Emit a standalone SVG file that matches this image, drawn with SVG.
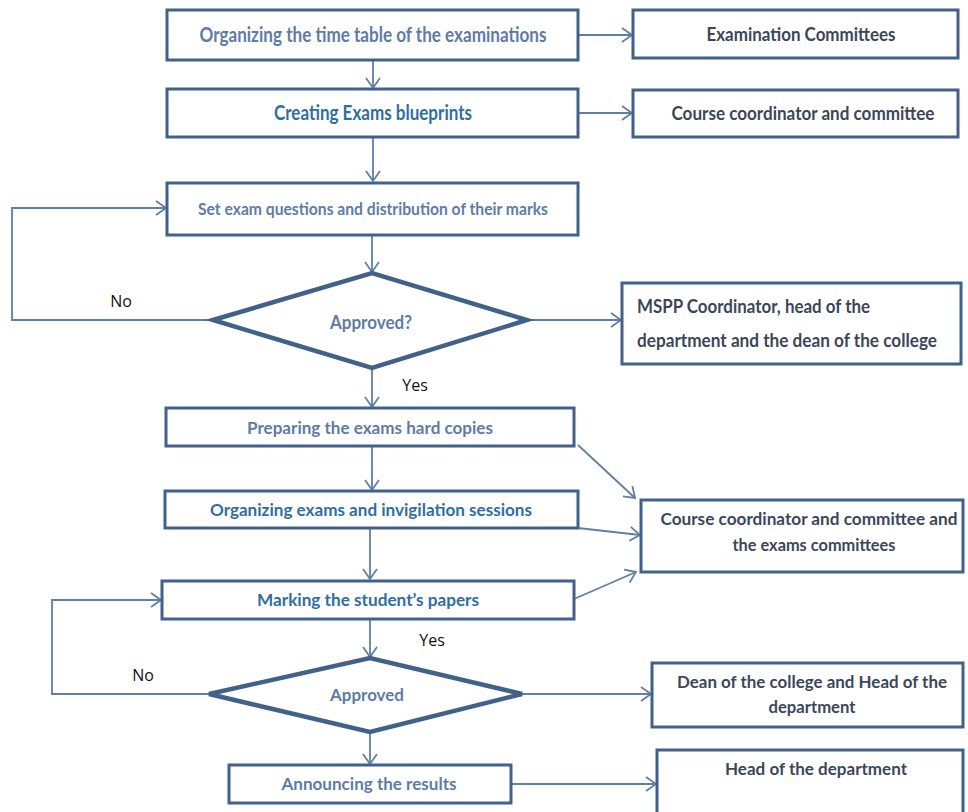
<svg xmlns="http://www.w3.org/2000/svg" width="968" height="812" viewBox="0 0 968 812">
<style>
.box{fill:#fff;stroke:#41618a;stroke-width:3}
.dia{fill:#fff;stroke:#41618a;stroke-width:4.5;stroke-linejoin:miter}
.con{fill:none;stroke:#5f7fa6;stroke-width:1.8;marker-end:url(#ah)}
.t{font-family:Lato,"Liberation Sans",sans-serif;font-weight:bold;text-anchor:middle}
.grey{fill:#5d7ca6}
.blue{fill:#2f6ea3}
.dark{fill:#3b4759}
.lbl{font-family:"Open Sans","Liberation Sans",sans-serif;font-size:16px;fill:#111;text-anchor:middle}
</style>
<defs>
<marker id="ah" markerUnits="userSpaceOnUse" markerWidth="14" markerHeight="16" refX="11" refY="8" orient="auto">
<path d="M1,1 L11,8 L1,15" fill="none" stroke="#5f7fa6" stroke-width="1.8"/>
</marker>
</defs>
<rect width="968" height="812" fill="#fff"/>
<g id="connectors">
<path class="con" d="M373,60 V88"/>
<path class="con" d="M578,35 H632"/>
<path class="con" d="M578,113 H632"/>
<path class="con" d="M373,138 V181"/>
<path class="con" d="M372,235 V272"/>
<path class="con" d="M213,320 H12 V208 H166"/>
<path class="con" d="M527,320 H621"/>
<path class="con" d="M372,368 V407"/>
<path class="con" d="M372,446 V490"/>
<path class="con" d="M370,528 V579"/>
<path class="con" d="M578,445 L635,498"/>
<path class="con" d="M578,528 L640,535"/>
<path class="con" d="M574,599 L636,572"/>
<path class="con" d="M370,620 V657"/>
<path class="con" d="M209,694 H52 V600 H161"/>
<path class="con" d="M522,694 H651"/>
<path class="con" d="M370,732 V764"/>
<path class="con" d="M511,784 H656"/>
<text class="lbl" x="121" y="307">No</text>
<text class="lbl" x="415" y="391">Yes</text>
<text class="lbl" x="432" y="646">Yes</text>
<text class="lbl" x="143" y="681">No</text>
</g>
<g id="n1"><rect class="box" x="167" y="10" width="411" height="50"/>
<text class="t grey" x="373" y="42" font-size="20" textLength="347" lengthAdjust="spacingAndGlyphs">Organizing the time table of the examinations</text></g>
<g id="n2"><rect class="box" x="167" y="89" width="411" height="48"/>
<text class="t blue" x="373" y="120" font-size="20" textLength="198" lengthAdjust="spacingAndGlyphs">Creating Exams blueprints</text></g>
<g id="n3"><rect class="box" x="633" y="10" width="325" height="48"/>
<text class="t dark" x="801" y="41" font-size="19" textLength="189" lengthAdjust="spacingAndGlyphs">Examination Committees</text></g>
<g id="n4"><rect class="box" x="633" y="90" width="325" height="47"/>
<text class="t dark" x="803" y="120" font-size="19" textLength="263" lengthAdjust="spacingAndGlyphs">Course coordinator and committee</text></g>
<g id="n5"><rect class="box" x="167" y="183" width="411" height="52"/>
<text class="t grey" x="373" y="215" font-size="17" textLength="350" lengthAdjust="spacingAndGlyphs">Set exam questions and distribution of their marks</text></g>
<g id="n6"><polygon class="dia" points="213,320 372,273 527,320 372,368"/>
<text class="t grey" x="371" y="329" font-size="19" textLength="82" lengthAdjust="spacingAndGlyphs">Approved?</text></g>
<g id="n7"><rect class="box" x="622" y="283" width="339" height="81"/>
<text class="t dark" x="637" y="313" font-size="19" style="text-anchor:start" textLength="233" lengthAdjust="spacingAndGlyphs">MSPP Coordinator, head of the</text>
<text class="t dark" x="637" y="347" font-size="19" style="text-anchor:start" textLength="300" lengthAdjust="spacingAndGlyphs">department and the dean of the college</text></g>
<g id="n8"><rect class="box" x="166" y="408" width="408" height="38"/>
<text class="t grey" x="370" y="434" font-size="17" textLength="246" lengthAdjust="spacingAndGlyphs">Preparing the exams hard copies</text></g>
<g id="n9"><rect class="box" x="165" y="491" width="413" height="37"/>
<text class="t blue" x="371" y="516" font-size="17" textLength="322" lengthAdjust="spacingAndGlyphs">Organizing exams and invigilation sessions</text></g>
<g id="n10"><rect class="box" x="641" y="500" width="322" height="72"/>
<text class="t dark" x="809" y="525" font-size="17" textLength="297" lengthAdjust="spacingAndGlyphs">Course coordinator and committee and</text>
<text class="t dark" x="814" y="551" font-size="17" textLength="163" lengthAdjust="spacingAndGlyphs">the exams committees</text></g>
<g id="n11"><rect class="box" x="162" y="581" width="412" height="38"/>
<text class="t blue" x="368" y="606" font-size="17" textLength="222" lengthAdjust="spacingAndGlyphs">Marking the student’s papers</text></g>
<g id="n12"><polygon class="dia" points="209,694 370,658 522,694 370,732"/>
<text class="t grey" x="367" y="701" font-size="17" textLength="74" lengthAdjust="spacingAndGlyphs">Approved</text></g>
<g id="n13"><rect class="box" x="652" y="663" width="311" height="64"/>
<text class="t dark" x="812" y="688" font-size="17" textLength="270" lengthAdjust="spacingAndGlyphs">Dean of the college and Head of the</text>
<text class="t dark" x="812" y="713" font-size="17" textLength="87" lengthAdjust="spacingAndGlyphs">department</text></g>
<g id="n14"><rect class="box" x="229" y="765" width="282" height="38"/>
<text class="t grey" x="369" y="790" font-size="17" textLength="175" lengthAdjust="spacingAndGlyphs">Announcing the results</text></g>
<g id="n15"><rect class="box" x="657" y="750" width="306" height="70"/>
<text class="t dark" x="816" y="775" font-size="17" textLength="182" lengthAdjust="spacingAndGlyphs">Head of the department</text></g>
</svg>
